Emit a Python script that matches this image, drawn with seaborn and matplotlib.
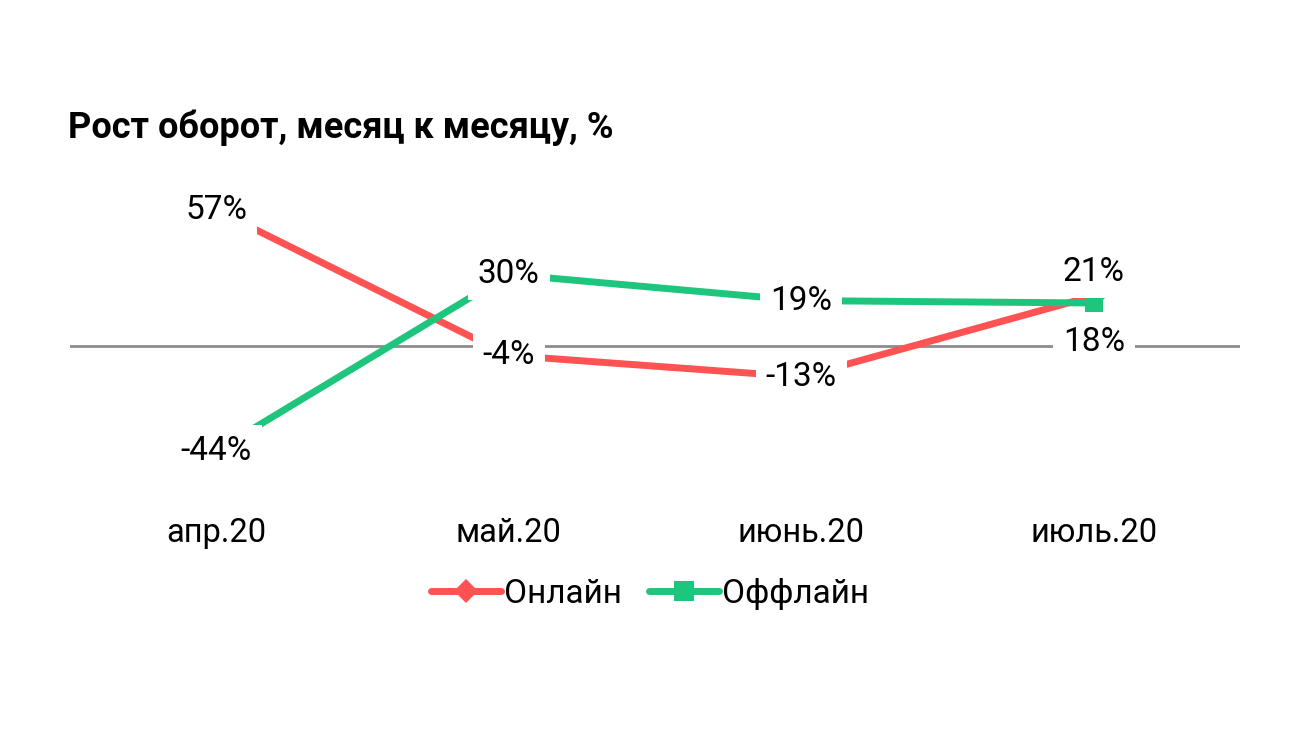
import pandas as pd
import matplotlib
matplotlib.use("Agg")
import matplotlib.pyplot as plt
import seaborn as sns

# Data
months = ["апр.20", "май.20", "июнь.20", "июль.20"]
online = [57, -4, -13, 21]
offline = [-44, 30, 19, 18]

series_names = ["Онлайн", "Оффлайн"]
colors = {"Онлайн": "#FF5252", "Оффлайн": "#1EC57C"}
markers = {"Онлайн": "D", "Оффлайн": "s"}

# label offsets in points (only the last month is shifted to avoid overlap)
label_offsets = {"Онлайн": [0, 0, 0, 17], "Оффлайн": [0, 0, 0, -28]}

df = pd.DataFrame({
    "pos": list(range(len(months))) * 2,
    "value": online + offline,
    "series": ["Онлайн"] * len(online) + ["Оффлайн"] * len(offline),
})

sns.set_theme(style="white")
plt.rcParams["font.family"] = ["Roboto", "DejaVu Sans"]
plt.rcParams["text.color"] = "black"
plt.rcParams["xtick.color"] = "black"

fig = plt.figure(figsize=(13, 7.31), dpi=100)
ax = fig.add_axes([70 / 1300, 1 - 489 / 731, 1170 / 1300, 310 / 731])

ax.axhline(0, color="#8c8c8c", lw=2, zorder=1)

sns.lineplot(data=df, x="pos", y="value", hue="series", style="series",
             hue_order=series_names, style_order=series_names,
             palette=colors, markers=markers, dashes=False,
             linewidth=5, markersize=13, markeredgewidth=0,
             ax=ax, legend=True, zorder=2)

# value labels with white boxes over the points
for name, vals in [("Онлайн", online), ("Оффлайн", offline)]:
    for i, v in enumerate(vals):
        ax.annotate(f"{v}%", xy=(i, v), xytext=(0, label_offsets[name][i]),
                    textcoords="offset points", ha="center", va="center",
                    fontsize=24, color="black", zorder=4,
                    bbox=dict(boxstyle="square,pad=0.3", fc="white", ec="none"))

ax.set_xlim(-0.5, 3.5)
ax.set_ylim(-60, 70)
ax.set_xticks(range(len(months)))
ax.set_xticklabels(months, fontsize=23.5, color="black")
ax.tick_params(axis="x", length=0, pad=20)
ax.set_yticks([])
ax.set_xlabel("")
ax.set_ylabel("")
for s in ax.spines.values():
    s.set_visible(False)

# legend below the chart
handles, labels = ax.get_legend_handles_labels()
ax.get_legend().remove()
for h, ms in zip(handles, [12, 15]):
    h.set_markersize(ms)
fig.legend(handles, labels, loc="center", bbox_to_anchor=(0.5, 1 - 594 / 731),
           ncol=2, frameon=False, fontsize=24, handlelength=2.1,
           handletextpad=0.1, columnspacing=0.8)

fig.text(68 / 1300, 1 - 128 / 731, "Рост оборот, месяц к месяцу, %",
         fontsize=26, fontweight="bold", ha="left", va="center", color="black")

fig.savefig("out.png", dpi=100)
